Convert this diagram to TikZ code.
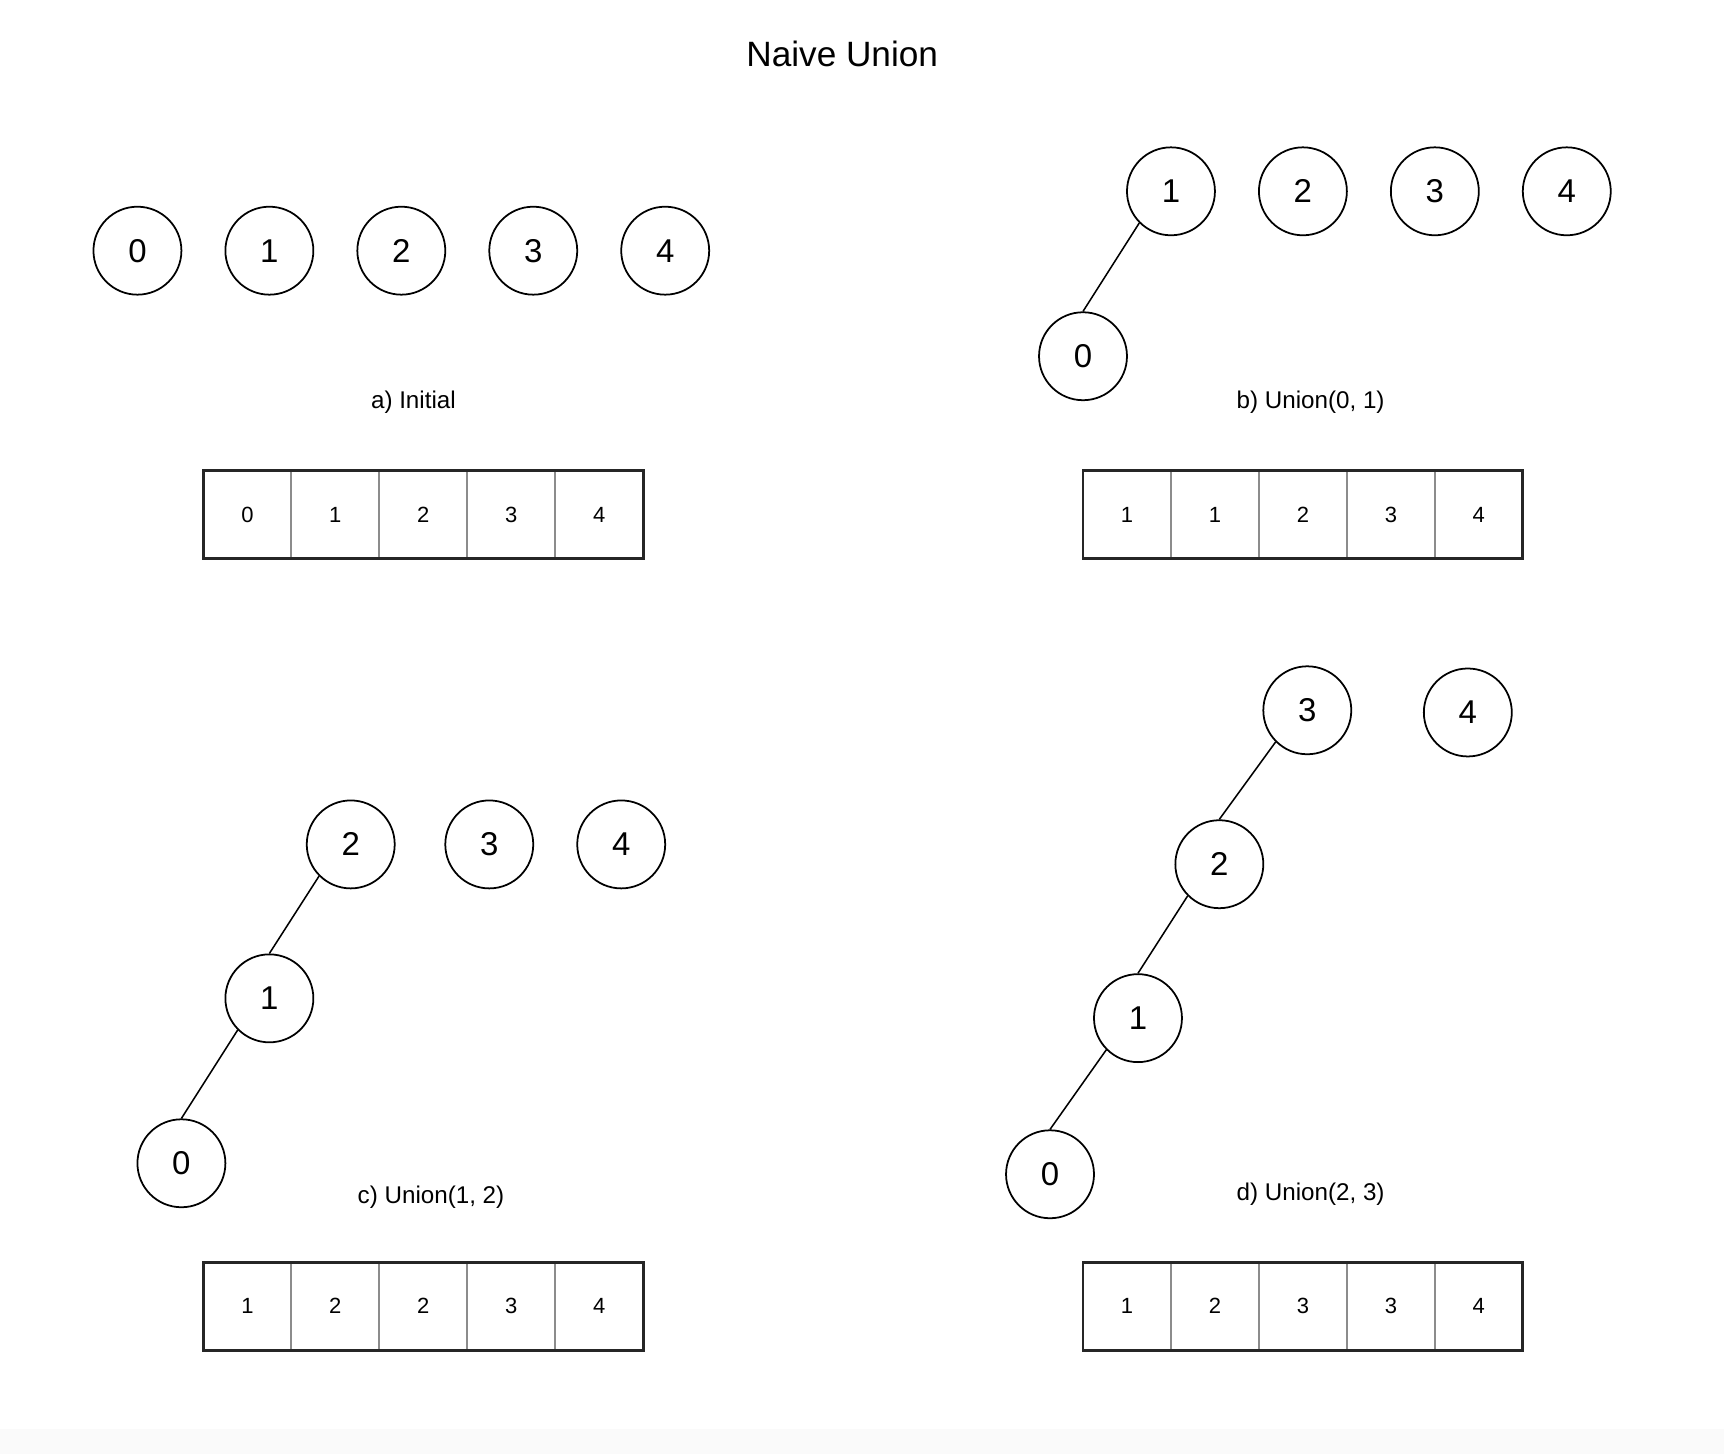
\documentclass[tikz,border=0pt]{standalone}
\usepackage{fontspec}
\setmainfont{Liberation Sans}
\begin{document}
\begin{tikzpicture}[x=1pt,y=-1pt,
  cnode/.style={circle,draw=black,line width=1.6pt,minimum size=80pt,inner sep=0pt,font=\fontsize{30}{30}\selectfont},
  cell/.style={draw=gray!90,line width=1.6pt,minimum size=80pt,inner sep=0pt,font=\fontsize{20}{20}\selectfont},
  captext/.style={font=\fontsize{22}{22}\selectfont},
  edge/.style={line width=1.4pt}]
\useasboundingbox (0,0) rectangle (1568,1322);
\fill[black!2] (0,1300) rectangle (1568,1322);
\node[font=\fontsize{32}{32}\selectfont] (title) at (766,49) {Naive Union};
% arrays
\newcommand{\myarray}[5]{%
  \foreach \v [count=\i from 0] in {#4} {\node[cell] (#5\i) at (#1+40+80*\i,#2+40) {\v};}
  \draw[line width=2.6pt,draw=black!85] (#1,#2) rectangle (#1+400,#2+80);}
% a
\foreach \n [count=\i from 0] in {0,1,2,3,4} \node[cnode] (a\n) at (125+120*\i,228) {\n};
\node[captext] (capa) at (376,366) {a) Initial};
\myarray{185}{428}{}{0,1,2,3,4}{arra}
% b
\node[cnode] (b1) at (1065,174) {1};
\node[cnode] (b2) at (1185,174) {2};
\node[cnode] (b3) at (1305,174) {3};
\node[cnode] (b4) at (1425,174) {4};
\node[cnode] (b0) at (985,324) {0};
\draw[edge] (b1.225) -- (b0.north);
\node[captext] (capb) at (1192,366) {b) Union(0, 1)};
\myarray{985}{428}{}{1,1,2,3,4}{arrb}
% c
\node[cnode] (c2) at (319,768) {2};
\node[cnode] (c3) at (445,768) {3};
\node[cnode] (c4) at (565,768) {4};
\node[cnode] (c1) at (245,908) {1};
\node[cnode] (c0) at (165,1058) {0};
\draw[edge] (c2.225) -- (c1.north);
\draw[edge] (c1.225) -- (c0.north);
\node[captext] (capc) at (392,1089) {c) Union(1, 2)};
\myarray{185}{1148}{}{1,2,2,3,4}{arrc}
% d
\node[cnode] (d3) at (1189,646) {3};
\node[cnode] (d4) at (1335,648) {4};
\node[cnode] (d2) at (1109,786) {2};
\node[cnode] (d1) at (1035,926) {1};
\node[cnode] (d0) at (955,1068) {0};
\draw[edge] (d3.225) -- (d2.north);
\draw[edge] (d2.225) -- (d1.north);
\draw[edge] (d1.225) -- (d0.north);
\node[captext] (capd) at (1192,1086) {d) Union(2, 3)};
\myarray{985}{1148}{}{1,2,3,3,4}{arrd}
\end{tikzpicture}
\end{document}
